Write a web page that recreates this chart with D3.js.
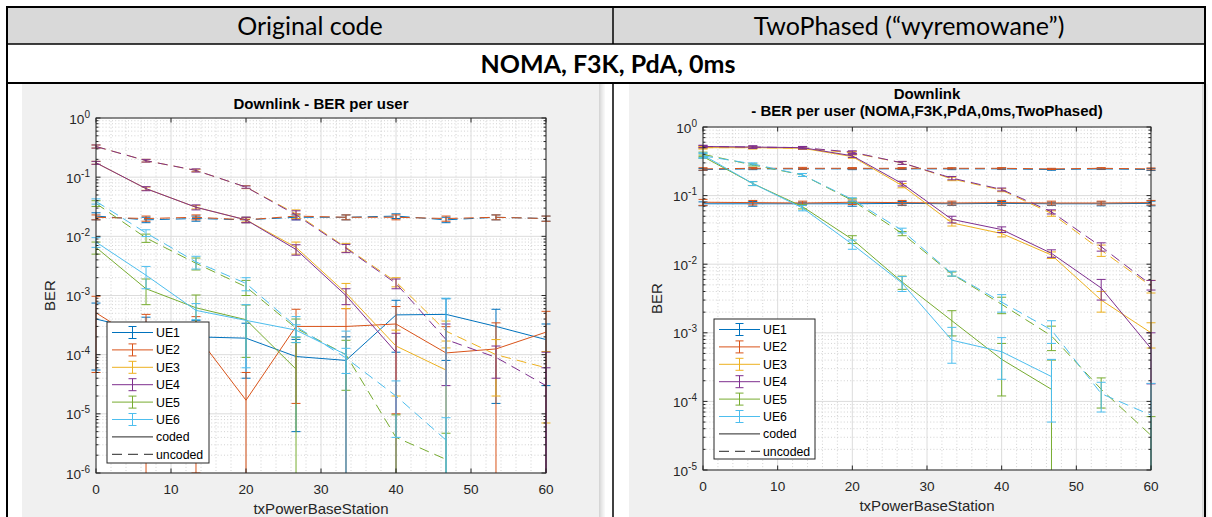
<!DOCTYPE html>
<html><head><meta charset="utf-8">
<script src="https://cdn.jsdelivr.net/npm/d3@7"></script>
<style>body{margin:0;background:#fff}svg{display:block}</style>
</head><body>
<svg id="c" width="1212" height="517"></svg>
<script>
// ---------------- DATA ----------------
const txPower = [0, 6.67, 13.33, 20, 26.67, 33.33, 40, 46.67, 53.33, 60];
const xTicks = [0, 10, 20, 30, 40, 50, 60];
const users = ["UE1", "UE2", "UE3", "UE4", "UE5", "UE6"];
const styleNames = ["coded", "uncoded"];
const colors = ["#0072BD", "#D95319", "#EDB120", "#7E2F8E", "#77AC30", "#4DBEEE"];
const headerLeft = "Original code";
const headerRight = "TwoPhased (\u201cwyremowane\u201d)";
const headerRow2 = "NOMA, F3K, PdA, 0ms";
const titleLeft = ["Downlink - BER per user"];
const titleRight = ["Downlink", "- BER per user (NOMA,F3K,PdA,0ms,TwoPhased)"];
const xLabel = "txPowerBaseStation";
const yLabel = "BER";

// Original code: coded (solid) BER per user
const origCoded = [
  [4.0e-4, 2.5e-4, 2.0e-4, 1.9e-4, 9.3e-5, 8.0e-5, 4.7e-4, 4.8e-4, 3.0e-4, 1.8e-4],
  [5.1e-4, 1.5e-4, 2.2e-4, 1.7e-5, 3.0e-4, 3.0e-4, 3.3e-4, 1.07e-4, 1.25e-4, 2.4e-4],
  [0.175, 0.064, 0.031, 0.019, 0.0065, 0.0011, 1.4e-4, 5.5e-5, 0, 0],
  [0.175, 0.064, 0.031, 0.019, 0.0060, 0.0010, 1.1e-4, 0, 0, 0],
  [6.5e-3, 1.3e-3, 6.2e-4, 3.9e-4, 5.7e-5, 0, 0, 0, 0, 0],
  [8.0e-3, 2.2e-3, 5.6e-4, 3.8e-4, 2.6e-4, 1.0e-4, 0, 0, 0, 0]
];
const origCodedErr = [
  [3.45e-4, 1.8e-4, 1.8e-4, 1.5e-4, 8.8e-5, 1.2e-4, 3.6e-4, 4.0e-4, 2.85e-4, 1.5e-4],
  [4.6e-4, 3.3e-4, 2.19e-4, 3.3e-5, 2.85e-4, 3.0e-4, 3.2e-4, 1.9e-4, 2.2e-4, 3.0e-4],
  [0.01, 0.004, 0.002, 0.0015, 0.0015, 5e-4, 1.2e-4, 1.15e-4, 0, 0],
  [0.01, 0.005, 0.003, 0.002, 0.0012, 3e-4, 1.2e-4, 0, 0, 1.1e-4],
  [1.5e-3, 6e-4, 4e-4, 3e-4, 1.4e-4, 0, 0, 0, 0, 0],
  [1.5e-3, 9e-4, 1.7e-4, 3.2e-4, 6e-5, 1.5e-4, 0, 9e-4, 0, 0]
];
// Original code: uncoded (dashed)
const origUncoded = [
  [0.022, 0.019, 0.020, 0.019, 0.021, 0.021, 0.022, 0.019, 0.021, 0.020],
  [0.021, 0.020, 0.021, 0.019, 0.022, 0.021, 0.021, 0.020, 0.021, 0.020],
  [0.33, 0.19, 0.13, 0.068, 0.024, 0.0065, 0.0017, 2.5e-4, 1.0e-4, 6.0e-5],
  [0.33, 0.19, 0.13, 0.068, 0.023, 0.0063, 0.0016, 1.8e-4, 9e-5, 3.0e-5],
  [0.036, 0.0094, 0.0035, 0.0014, 2.8e-4, 1.0e-4, 4e-6, 1.7e-6, 0, 0],
  [0.039, 0.0114, 0.0037, 0.0016, 3.0e-4, 8.8e-5, 2e-5, 3.6e-6, 0, 0]
];
const origUncodedErr = [
  [0.003, 0.002, 0.002, 0.002, 0.002, 0.002, 0.002, 0.002, 0.002, 0.002],
  [0.002, 0.002, 0.002, 0.002, 0.002, 0.002, 0.002, 0.002, 0.002, 0.002],
  [0.02, 0.01, 0.006, 0.004, 0.004, 0.0011, 3e-4, 1.2e-4, 8e-5, 5.3e-5],
  [0.02, 0.01, 0.008, 0.003, 0.004, 0.001, 3e-4, 1.5e-4, 5e-5, 3e-5],
  [0.004, 0.0015, 8e-4, 4e-4, 1.2e-4, 7.5e-5, 5.6e-6, 3e-6, 0, 0],
  [0.004, 0.0015, 9e-4, 4e-4, 1.4e-4, 4e-5, 1.6e-5, 5e-6, 0, 0]
];
// TwoPhased: coded (solid)
const twoCoded = [
  [0.076, 0.076, 0.076, 0.076, 0.077, 0.076, 0.077, 0.076, 0.076, 0.077],
  [0.080, 0.079, 0.078, 0.080, 0.079, 0.078, 0.079, 0.078, 0.078, 0.079],
  [0.50, 0.50, 0.49, 0.37, 0.14, 0.040, 0.028, 0.0136, 0.0030, 0.0010],
  [0.52, 0.51, 0.50, 0.38, 0.15, 0.045, 0.032, 0.0144, 0.0045, 5.9e-4],
  [0.37, 0.15, 0.069, 0.023, 0.0055, 0.0015, 4.1e-4, 1.5e-4, 0, 0],
  [0.39, 0.15, 0.066, 0.0195, 0.0053, 7.8e-4, 5.3e-4, 2.3e-4, 0, 0]
];
const twoCodedErr = [
  [0.005, 0.006, 0.004, 0.006, 0.005, 0.004, 0.005, 0.004, 0.005, 0.006],
  [0.008, 0.006, 0.005, 0.006, 0.006, 0.005, 0.006, 0.005, 0.005, 0.006],
  [0.02, 0.02, 0.02, 0.02, 0.01, 0.004, 0.003, 0.0015, 0.001, 4e-4],
  [0.02, 0.02, 0.02, 0.02, 0.012, 0.005, 0.003, 0.0018, 0.0015, 4.1e-4],
  [0.02, 0.01, 0.005, 0.003, 0.0012, 6e-4, 2.9e-4, 2.5e-4, 0, 0],
  [0.03, 0.01, 0.006, 0.003, 0.0013, 4.2e-4, 3.2e-4, 1.8e-4, 0, 0]
];
// TwoPhased: uncoded (dashed)
const twoUncoded = [
  [0.24, 0.245, 0.245, 0.245, 0.245, 0.245, 0.245, 0.24, 0.245, 0.24],
  [0.245, 0.25, 0.25, 0.25, 0.25, 0.25, 0.25, 0.245, 0.25, 0.245],
  [0.50, 0.50, 0.49, 0.42, 0.30, 0.175, 0.12, 0.055, 0.016, 0.0048],
  [0.52, 0.51, 0.50, 0.43, 0.30, 0.18, 0.123, 0.058, 0.018, 0.005],
  [0.40, 0.28, 0.20, 0.085, 0.028, 0.0072, 0.0026, 9e-4, 1.5e-4, 3.2e-5],
  [0.38, 0.29, 0.20, 0.088, 0.031, 0.0073, 0.0028, 1.1e-3, 1.3e-4, 6.3e-5]
];
const twoUncodedErr = [
  [0.008, 0.006, 0.005, 0.006, 0.005, 0.006, 0.005, 0.006, 0.005, 0.008],
  [0.01, 0.006, 0.008, 0.006, 0.006, 0.005, 0.006, 0.005, 0.006, 0.008],
  [0.02, 0.02, 0.02, 0.02, 0.015, 0.01, 0.006, 0.005, 0.003, 0.001],
  [0.02, 0.02, 0.02, 0.02, 0.015, 0.01, 0.006, 0.004, 0.0025, 8e-4],
  [0.03, 0.01, 0.01, 0.005, 0.002, 5e-4, 7e-4, 3.5e-4, 7e-5, 2.8e-5],
  [0.03, 0.01, 0.01, 0.005, 0.0025, 6e-4, 8e-4, 4e-4, 6e-5, 1.2e-4]
];

// ---------------- DRAW ----------------
const svg = d3.select("#c");
const TXT = "#262626";
const AXF = "'Liberation Sans', Arial, Helvetica, sans-serif";
const HDF = "Lato, 'Open Sans', sans-serif";

// table header
svg.append("rect").attr("x", 7).attr("y", 7).attr("width", 1198).attr("height", 37).attr("fill", "#d9d9d9");
svg.append("text").attr("x", 310).attr("y", 35).attr("text-anchor", "middle")
  .attr("font-family", HDF).attr("font-size", 25).attr("fill", "#000").text(headerLeft);
svg.append("text").attr("x", 909).attr("y", 35).attr("text-anchor", "middle")
  .attr("font-family", HDF).attr("font-size", 25).attr("fill", "#000").text(headerRight);
svg.append("text").attr("x", 608).attr("y", 73).attr("text-anchor", "middle")
  .attr("font-family", HDF).attr("font-weight", "bold").attr("font-size", 25).attr("fill", "#000").text(headerRow2);

function drawPanel(cfg) {
  const g = svg.append("g");
  const ax = cfg.ax;
  g.append("rect").attr("x", cfg.panel.x).attr("y", cfg.panel.y).attr("width", cfg.panel.w).attr("height", cfg.panel.h).attr("fill", "#f0f0f0");
  const sh = ["#d6d6d6", "#dedede", "#e6e6e6", "#ececec", "#f2f2f2", "#f7f7f7"];
  sh.forEach((c, i) => g.append("rect").attr("x", cfg.panel.x + cfg.panel.w + i).attr("y", cfg.panel.y)
    .attr("width", 1).attr("height", cfg.panel.h).attr("fill", c));

  const x = d3.scaleLinear().domain([0, 60]).range([ax.l, ax.r]);
  const y = d3.scaleLog().domain(cfg.yDomain).range([ax.b, ax.t]);

  g.append("rect").attr("x", ax.l).attr("y", ax.t).attr("width", ax.r - ax.l).attr("height", ax.b - ax.t).attr("fill", "#fff");

  const lo = Math.round(Math.log10(cfg.yDomain[0]));
  const decades = d3.range(lo, 1);
  const yMinor = [];
  decades.slice(0, -1).forEach(k => { for (let m = 2; m <= 9; m++) yMinor.push(m * Math.pow(10, k)); });
  const xMinor = d3.range(0, 61, 2).filter(v => v % 10 !== 0);

  const mg = g.append("g").attr("stroke", "#c6c6c6").attr("stroke-width", 0.8).attr("stroke-dasharray", "1,2.2");
  yMinor.forEach(v => mg.append("line").attr("x1", ax.l).attr("x2", ax.r).attr("y1", y(v)).attr("y2", y(v)));
  xMinor.forEach(v => mg.append("line").attr("x1", x(v)).attr("x2", x(v)).attr("y1", ax.t).attr("y2", ax.b));
  const gg = g.append("g").attr("stroke", "#dcdcdc").attr("stroke-width", 1);
  decades.forEach(k => gg.append("line").attr("x1", ax.l).attr("x2", ax.r).attr("y1", y(Math.pow(10, k))).attr("y2", y(Math.pow(10, k))));
  xTicks.forEach(v => gg.append("line").attr("x1", x(v)).attr("x2", x(v)).attr("y1", ax.t).attr("y2", ax.b));

  const cid = "clip" + cfg.id;
  g.append("clipPath").attr("id", cid).append("rect").attr("x", ax.l - 12).attr("y", ax.t).attr("width", ax.r - ax.l + 24).attr("height", ax.b - ax.t);
  const dg = g.append("g").attr("clip-path", `url(#${cid})`);

  const line = d3.line().defined(d => d.v > 0).x(d => x(d.x)).y(d => y(d.v));
  const cap = 4.5;
  users.forEach((u, i) => {
    [[cfg.coded[i], cfg.codedErr[i], null], [cfg.uncoded[i], cfg.uncodedErr[i], "10,6"]].forEach(([vals, errs, dash]) => {
      const pts = txPower.map((t, j) => ({ x: t, v: vals[j], e: errs[j] }));
      const s = dg.append("g").attr("stroke", colors[i]).attr("fill", "none").attr("stroke-width", 1);
      s.append("path").attr("d", line(pts)).attr("stroke-dasharray", dash);
      pts.forEach(p => {
        if (!(p.e > 0)) return;
        const hi = p.v + p.e, lw = p.v - p.e;
        const yh = y(hi), yl = lw > 0 ? y(lw) : ax.b + 5;
        const px = x(p.x);
        s.append("line").attr("x1", px).attr("x2", px).attr("y1", yh).attr("y2", yl);
        s.append("line").attr("x1", px - cap).attr("x2", px + cap).attr("y1", yh).attr("y2", yh);
        if (lw > 0) s.append("line").attr("x1", px - cap).attr("x2", px + cap).attr("y1", yl).attr("y2", yl);
      });
    });
  });

  const bg = g.append("g").attr("stroke", TXT).attr("stroke-width", 1).attr("fill", "none");
  bg.append("rect").attr("x", ax.l).attr("y", ax.t).attr("width", ax.r - ax.l).attr("height", ax.b - ax.t);
  decades.forEach(k => {
    const yy = y(Math.pow(10, k));
    bg.append("line").attr("x1", ax.l).attr("x2", ax.l + 4.5).attr("y1", yy).attr("y2", yy);
    bg.append("line").attr("x1", ax.r - 4.5).attr("x2", ax.r).attr("y1", yy).attr("y2", yy);
  });
  yMinor.forEach(v => {
    const yy = y(v);
    bg.append("line").attr("x1", ax.l).attr("x2", ax.l + 2.5).attr("y1", yy).attr("y2", yy);
    bg.append("line").attr("x1", ax.r - 2.5).attr("x2", ax.r).attr("y1", yy).attr("y2", yy);
  });
  xTicks.forEach(v => {
    const xx = x(v);
    bg.append("line").attr("x1", xx).attr("x2", xx).attr("y1", ax.b).attr("y2", ax.b - 4.5);
    bg.append("line").attr("x1", xx).attr("x2", xx).attr("y1", ax.t).attr("y2", ax.t + 4.5);
  });

  xTicks.forEach(v => g.append("text").attr("x", x(v)).attr("y", ax.b + 21).attr("text-anchor", "middle")
    .attr("font-family", AXF).attr("font-size", 13.6).attr("fill", TXT).text(v));
  decades.forEach(k => {
    const t = g.append("text").attr("x", ax.l - 6).attr("y", y(Math.pow(10, k)) + 5.5).attr("text-anchor", "end")
      .attr("font-family", AXF).attr("font-size", 13.6).attr("fill", TXT);
    t.append("tspan").text("10");
    t.append("tspan").attr("dy", -6).attr("font-size", 10).text(String(k));
  });

  cfg.title.forEach((tl, i) => g.append("text").attr("x", (ax.l + ax.r) / 2).attr("y", cfg.titleY[i]).attr("text-anchor", "middle")
    .attr("font-family", AXF).attr("font-weight", "bold").attr("font-size", 15).attr("fill", "#000").text(tl));
  g.append("text").attr("x", (ax.l + ax.r) / 2).attr("y", cfg.xlabelY).attr("text-anchor", "middle")
    .attr("font-family", AXF).attr("font-size", 15).attr("fill", TXT).text(xLabel);
  g.append("text").attr("transform", `translate(${cfg.ylabelX},${(ax.t + ax.b) / 2}) rotate(-90)`).attr("text-anchor", "middle")
    .attr("font-family", AXF).attr("font-size", 15).attr("fill", TXT).text(yLabel);

  const L = cfg.legend;
  const lg = g.append("g");
  lg.append("rect").attr("x", L.x).attr("y", L.y).attr("width", L.w).attr("height", L.h).attr("fill", "#fff").attr("stroke", TXT).attr("stroke-width", 1);
  const entries = users.map((u, i) => ({ label: u, color: colors[i], eb: true, dash: null }))
    .concat([{ label: styleNames[0], color: TXT, eb: false, dash: null }, { label: styleNames[1], color: TXT, eb: false, dash: "10,6" }]);
  entries.forEach((e, i) => {
    const yy = L.y + 10.5 + i * 17.4;
    const x0 = L.x + 5, x1 = L.x + 46, xm = (x0 + x1) / 2;
    lg.append("line").attr("x1", x0).attr("x2", x1).attr("y1", yy).attr("y2", yy).attr("stroke", e.color).attr("stroke-width", 1).attr("stroke-dasharray", e.dash);
    if (e.eb) {
      lg.append("line").attr("x1", xm).attr("x2", xm).attr("y1", yy - 6).attr("y2", yy + 6).attr("stroke", e.color);
      lg.append("line").attr("x1", xm - 4).attr("x2", xm + 4).attr("y1", yy - 6).attr("y2", yy - 6).attr("stroke", e.color);
      lg.append("line").attr("x1", xm - 4).attr("x2", xm + 4).attr("y1", yy + 6).attr("y2", yy + 6).attr("stroke", e.color);
    }
    lg.append("text").attr("x", L.x + 49).attr("y", yy + 4.5).attr("font-family", AXF).attr("font-size", 12.3).attr("fill", "#000").text(e.label);
  });
}

drawPanel({
  id: "L", panel: { x: 22, y: 84, w: 577, h: 433 }, ax: { l: 96, r: 546, t: 118, b: 473 },
  yDomain: [1e-6, 1], title: titleLeft, titleY: [109], xlabelY: 514, ylabelX: 55,
  legend: { x: 107, y: 322, w: 102, h: 141 },
  coded: origCoded, codedErr: origCodedErr, uncoded: origUncoded, uncodedErr: origUncodedErr
});
drawPanel({
  id: "R", panel: { x: 629, y: 84, w: 573, h: 433 }, ax: { l: 703, r: 1151, t: 127, b: 470 },
  yDomain: [1e-5, 1], title: titleRight, titleY: [99, 116], xlabelY: 511, ylabelX: 662,
  legend: { x: 714, y: 319, w: 101, h: 140 },
  coded: twoCoded, codedErr: twoCodedErr, uncoded: twoUncoded, uncodedErr: twoUncodedErr
});

const bd = svg.append("g").attr("stroke", "#000");
bd.append("line").attr("x1", 6).attr("x2", 1206).attr("y1", 7).attr("y2", 7).attr("stroke-width", 2);
bd.append("line").attr("x1", 7).attr("x2", 7).attr("y1", 6).attr("y2", 517).attr("stroke-width", 2);
bd.append("line").attr("x1", 1205).attr("x2", 1205).attr("y1", 6).attr("y2", 517).attr("stroke-width", 2);
bd.append("line").attr("x1", 6).attr("x2", 1206).attr("y1", 44).attr("y2", 44).attr("stroke-width", 1.5);
bd.append("line").attr("x1", 6).attr("x2", 1206).attr("y1", 83).attr("y2", 83).attr("stroke-width", 2);
bd.append("line").attr("x1", 613).attr("x2", 613).attr("y1", 6).attr("y2", 44).attr("stroke-width", 1.5);
bd.append("line").attr("x1", 613).attr("x2", 613).attr("y1", 83).attr("y2", 517).attr("stroke-width", 1.5);
</script>
</body></html>
